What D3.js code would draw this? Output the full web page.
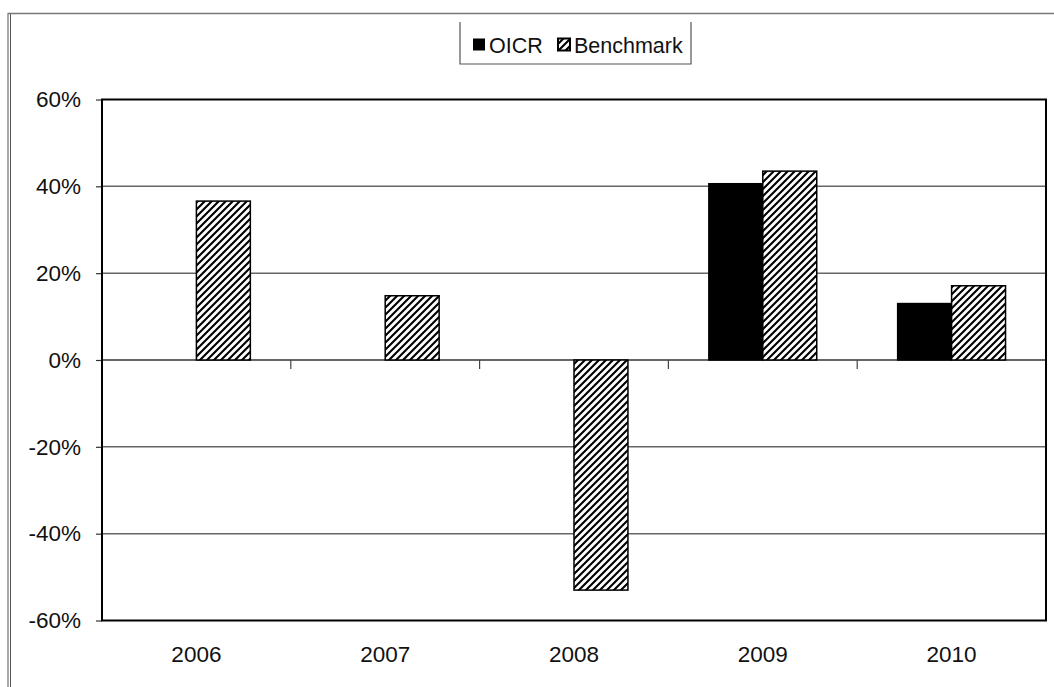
<!DOCTYPE html>
<html><head><meta charset="utf-8">
<script src="https://cdn.jsdelivr.net/npm/d3@7"></script>
<style>body{margin:0;background:#fff}svg{display:block}</style>
</head><body>
<svg id="c" width="1054" height="687"></svg>
<script>
const categories = ["2006","2007","2008","2009","2010"];
const seriesNames = ["OICR","Benchmark"];
const oicr = [null, null, null, 40.6, 13.0];
const benchmark = [36.6, 14.8, -53.0, 43.5, 17.1];
const yTicks = [-60,-40,-20,0,20,40,60];

const svg = d3.select("#c");
const font = "'Liberation Sans', Arial, sans-serif";
const L = 102, R = 1046, T = 99.5, B = 620.5;

const defs = svg.append("defs");
const pat = defs.append("pattern").attr("id","hatch").attr("patternUnits","userSpaceOnUse")
  .attr("width",7).attr("height",7);
pat.append("rect").attr("width",7).attr("height",7).attr("fill","#fff");
pat.append("path").attr("d","M-1.5,1.5 L1.5,-1.5 M0,7 L7,0 M5.5,8.5 L8.5,5.5")
  .attr("stroke","#000").attr("stroke-width",2.1);

// outer frame
svg.append("line").attr("x1",8).attr("x2",8).attr("y1",13).attr("y2",687).attr("stroke","#555").attr("stroke-width",1);
svg.append("line").attr("x1",10.5).attr("x2",10.5).attr("y1",13).attr("y2",687).attr("stroke","#555").attr("stroke-width",1);
svg.append("line").attr("x1",8).attr("x2",1054).attr("y1",13.5).attr("y2",13.5).attr("stroke","#777").attr("stroke-width",1.5);

const x0 = d3.scaleBand().domain(categories).range([L,R]).paddingInner(0).paddingOuter(0);
const gapFrac = 1.5/3.5;
const x1 = d3.scaleBand().domain(seriesNames).range([x0.bandwidth()*gapFrac/2, x0.bandwidth()*(1-gapFrac/2)]);
const y = d3.scaleLinear().domain([-60,60]).range([B,T]);

// gridlines
svg.append("g").selectAll("line").data(yTicks.filter(d=>d>-60 && d<60)).join("line")
  .attr("x1",L).attr("x2",R).attr("y1",d=>y(d)).attr("y2",d=>y(d))
  .attr("stroke","#666").attr("stroke-width",d=>d===0?2:1.5);

// y axis
const yAxis = d3.axisLeft(y).tickValues(yTicks).tickSize(6).tickPadding(15).tickFormat(d=>d+"%");
const gy = svg.append("g").attr("transform",`translate(${L},0)`).call(yAxis);
gy.select(".domain").remove();
gy.selectAll(".tick line").attr("stroke","#333").attr("stroke-width",1.2);
gy.selectAll(".tick text").attr("font-family",font).attr("font-size",22.5).attr("fill","#111");

// category ticks on zero line
svg.append("g").selectAll("line").data(categories.slice(1)).join("line")
  .attr("x1",d=>x0(d)).attr("x2",d=>x0(d)).attr("y1",y(0)).attr("y2",y(0)+9)
  .attr("stroke","#444").attr("stroke-width",1.2);

// x labels
const xAxis = d3.axisBottom(x0).tickSize(0).tickPadding(26);
const gx = svg.append("g").attr("transform",`translate(0,${B})`).call(xAxis);
gx.select(".domain").remove();
gx.selectAll(".tick text").attr("font-family",font).attr("font-size",22.5).attr("fill","#111");

// bars
const rows = categories.map((c,i)=>({c, vals:[{s:"OICR",v:oicr[i]},{s:"Benchmark",v:benchmark[i]}]}));
const g = svg.append("g");
rows.forEach(r=>{
  r.vals.filter(d=>d.v!==null).forEach(d=>{
    g.append("rect")
      .attr("x",x0(r.c)+x1(d.s)).attr("width",x1.bandwidth())
      .attr("y",y(Math.max(0,d.v))).attr("height",Math.abs(y(d.v)-y(0)))
      .attr("fill",d.s==="OICR"?"#000":"url(#hatch)")
      .attr("stroke","#000").attr("stroke-width",1.5);
  });
});

// plot border
svg.append("rect").attr("x",L).attr("y",T).attr("width",R-L).attr("height",B-T)
  .attr("fill","none").attr("stroke","#000").attr("stroke-width",2);

// legend
const lg = svg.append("g");
lg.append("path").attr("d","M460,22 V64 H691 V22").attr("fill","none").attr("stroke","#555").attr("stroke-width",1.2);
lg.append("rect").attr("x",473).attr("y",38.5).attr("width",12).attr("height",12).attr("fill","#000");
lg.append("text").attr("x",489).attr("y",52.5).attr("font-family",font).attr("font-size",21.5).attr("fill","#111").text(seriesNames[0]);
lg.append("rect").attr("x",558).attr("y",38.5).attr("width",12).attr("height",12).attr("fill","url(#hatch)").attr("stroke","#000").attr("stroke-width",2);
lg.append("text").attr("x",574).attr("y",52.5).attr("font-family",font).attr("font-size",21.5).attr("fill","#111").text(seriesNames[1]);
</script>
</body></html>
